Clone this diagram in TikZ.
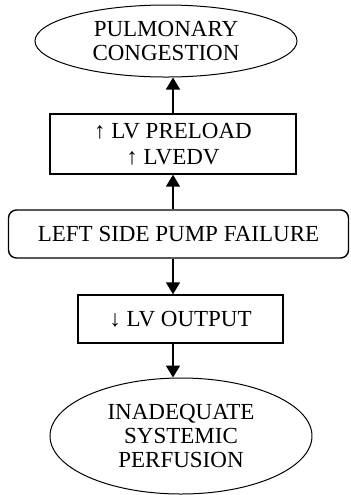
\documentclass[tikz,border=0pt]{standalone}
\usepackage{fontspec}
\setmainfont{Liberation Serif}
\usetikzlibrary{arrows.meta,shapes,positioning,calc}

\begin{document}
\begin{tikzpicture}[x=0.5pt,y=-0.5pt,
  every node/.style={font=\fontsize{11.5}{11.8}\selectfont,align=center,inner sep=0pt},
  ell/.style={draw,ellipse,line width=0.5pt},
  box/.style={draw,rectangle,line width=0.7pt},
  arr/.style={-{Triangle[length=6pt,width=7pt]},line width=0.8pt}]
  \useasboundingbox (0,0) rectangle (350,495);
  % Define the boxes and ellipses
  \path (166,41) node[ell,minimum width=131pt,minimum height=36pt] (congestion) {PULMONARY\\CONGESTION};
  \path (173,144) node[box,minimum width=123pt,minimum height=30pt,font=\fontsize{11.5}{12.8}\selectfont] (preload) {↑ LV PRELOAD\\↑ LVEDV};
  \path (178.5,234) node[box,rounded corners=4pt,minimum width=170pt,minimum height=24pt] (failure) {LEFT SIDE PUMP FAILURE};
  \path (180.5,319) node[box,minimum width=102.5pt,minimum height=24pt] (output) {↓ LV OUTPUT};
  \path (181,436) node[ell,minimum width=131pt,minimum height=58pt] (perfusion) {INADEQUATE\\SYSTEMIC\\PERFUSION};
  % Draw the arrows
  \draw[arr] (preload.north) -- (preload.north |- congestion.south);
  \draw[arr] (preload.south |- failure.north) -- (preload.south);
  \draw[arr] (preload.south |- failure.south) -- (preload.south |- output.north);
  \draw[arr] (preload.south |- output.south) -- (preload.south |- perfusion.north);
\end{tikzpicture}
\end{document}
